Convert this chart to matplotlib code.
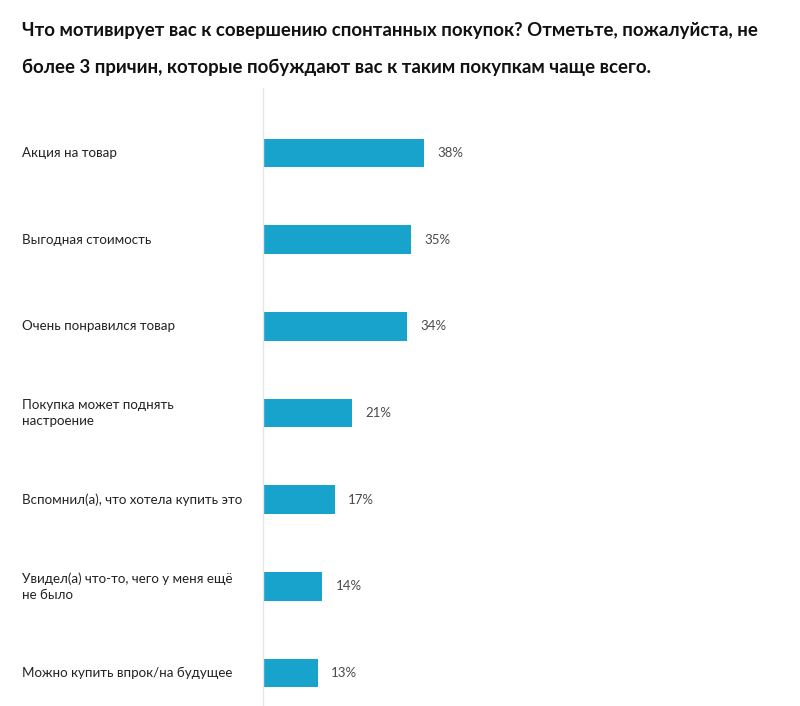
import matplotlib.pyplot as plt
import matplotlib.transforms as mtransforms

plt.rcParams['font.family'] = ['Lato', 'DejaVu Sans']

title = ("Что мотивирует вас к совершению спонтанных покупок? Отметьте, пожалуйста, не\n"
         "более 3 причин, которые побуждают вас к таким покупкам чаще всего.")

labels = [
    "Акция на товар",
    "Выгодная стоимость",
    "Очень понравился товар",
    "Покупка может поднять\nнастроение",
    "Вспомнил(а), что хотела купить это",
    "Увидел(а) что-то, чего у меня ещё\nне было",
    "Можно купить впрок/на будущее",
]
values = [38, 35, 34, 21, 17, 14, 13]

W, H = 800, 706
fig = plt.figure(figsize=(W / 100, H / 100), dpi=100)
fig.patch.set_facecolor('white')

# axes: x=0 at 263px, 100% at 687px; top at 88px, bottom at image edge
ax = fig.add_axes([263 / W, 0, 424 / W, 1 - 88 / H])
ypos = list(range(len(values)))
ax.barh(ypos, values, height=0.33, color='#17a3cc')
ax.set_xlim(0, 100)
ax.set_ylim(6.38, -0.75)

for s in ['top', 'right', 'bottom']:
    ax.spines[s].set_visible(False)
ax.spines['left'].set_color('#e6e6e6')
ax.spines['left'].set_linewidth(1)
ax.set_xticks([])
ax.set_yticks([])

for y, v in zip(ypos, values):
    ax.annotate(f"{v}%", (v, y), xytext=(9.4, 0), textcoords='offset points',
                va='center', ha='left', fontsize=9.5, color='#4a4a4a')

tr = mtransforms.blended_transform_factory(fig.transFigure, ax.transData)
for y, lab in zip(ypos, labels):
    ax.text(22 / W, y, lab, transform=tr, ha='left', va='center',
            fontsize=9.6, color='#222222', linespacing=1.4)

fig.text(22 / W, 1 - 49 / H, title, ha='left', va='center', fontsize=13.4,
         fontweight='bold', color='#111111', linespacing=2.4)

fig.savefig('out.png', dpi=100, facecolor='white')
